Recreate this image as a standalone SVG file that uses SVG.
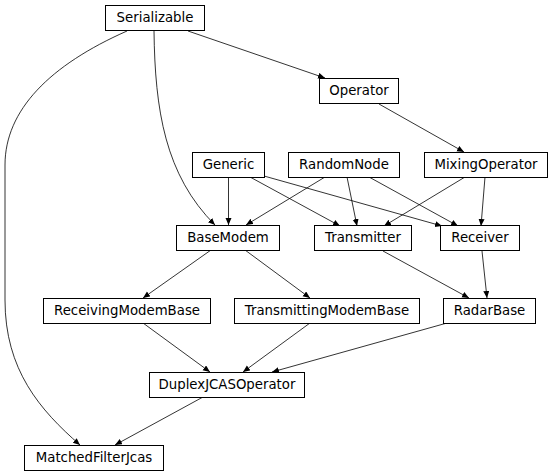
<svg xmlns="http://www.w3.org/2000/svg" width="552" height="476" viewBox="0 0 552 476">
<defs>
<marker id="ah" markerUnits="userSpaceOnUse" markerWidth="8" markerHeight="7" refX="7" refY="3" orient="auto">
<path d="M0,0 L7,3 L0,6 z" fill="#000"/>
</marker>
<style>
.n rect{fill:#fff;stroke:#000;stroke-width:1}
.n text{font-family:"DejaVu Sans",sans-serif;font-size:13.3px;text-anchor:middle;fill:#000}
#edges path{fill:none;stroke:#000;stroke-width:0.8;marker-end:url(#ah)}
</style>
</defs>
<rect width="552" height="476" fill="#fff"/>
<g id="edges">
<path d="M188,31 L325,78"/>
<path d="M154,31 C155,110 165,175 215,225"/>
<path d="M127,31 C50,65 5,110 5,165 L5,300 C5,370 40,410 80,445"/>
<path d="M379,104 L464,152"/>
<path d="M228.5,177 L228.5,225"/>
<path d="M250,177 L340,226"/>
<path d="M264,176 L442,226"/>
<path d="M325,177 L246,225"/>
<path d="M347,177 L357,226"/>
<path d="M369,177 L458,226"/>
<path d="M465,177 L384,226"/>
<path d="M485,177 L481,226"/>
<path d="M211,250 L143,298"/>
<path d="M245,250 L310,298"/>
<path d="M383,251 L469,298"/>
<path d="M482,251 L487,298"/>
<path d="M143,323 L210,372"/>
<path d="M310,323 L243,372"/>
<path d="M447,323 L272,372"/>
<path d="M203,397 L115,445"/>
</g>
<g id="Serializable" class="n"><rect x="105.5" y="5.5" width="99" height="25"/><text x="155" y="22">Serializable</text></g>
<g id="Operator" class="n"><rect x="319.5" y="78.5" width="79" height="25"/><text x="359" y="95">Operator</text></g>
<g id="Generic" class="n"><rect x="192.5" y="152.5" width="72" height="25"/><text x="228.5" y="169">Generic</text></g>
<g id="RandomNode" class="n"><rect x="288.5" y="152.5" width="111" height="25"/><text x="344" y="169">RandomNode</text></g>
<g id="MixingOperator" class="n"><rect x="424.5" y="152.5" width="123" height="25"/><text x="486" y="169">MixingOperator</text></g>
<g id="BaseModem" class="n"><rect x="176.5" y="225.5" width="103" height="25"/><text x="228" y="242">BaseModem</text></g>
<g id="Transmitter" class="n"><rect x="314.5" y="225.5" width="97" height="25"/><text x="363" y="242">Transmitter</text></g>
<g id="Receiver" class="n"><rect x="440.5" y="225.5" width="79" height="25"/><text x="480" y="242">Receiver</text></g>
<g id="ReceivingModemBase" class="n"><rect x="43.5" y="298.5" width="167" height="25"/><text x="127" y="315">ReceivingModemBase</text></g>
<g id="TransmittingModemBase" class="n"><rect x="234.5" y="298.5" width="185" height="25"/><text x="327" y="315">TransmittingModemBase</text></g>
<g id="RadarBase" class="n"><rect x="443.5" y="298.5" width="92" height="25"/><text x="489.5" y="315">RadarBase</text></g>
<g id="DuplexJCASOperator" class="n"><rect x="149.5" y="372.5" width="155" height="25"/><text x="227" y="389">DuplexJCASOperator</text></g>
<g id="MatchedFilterJcas" class="n"><rect x="24.5" y="445.5" width="139" height="25"/><text x="94" y="462">MatchedFilterJcas</text></g>
</svg>
